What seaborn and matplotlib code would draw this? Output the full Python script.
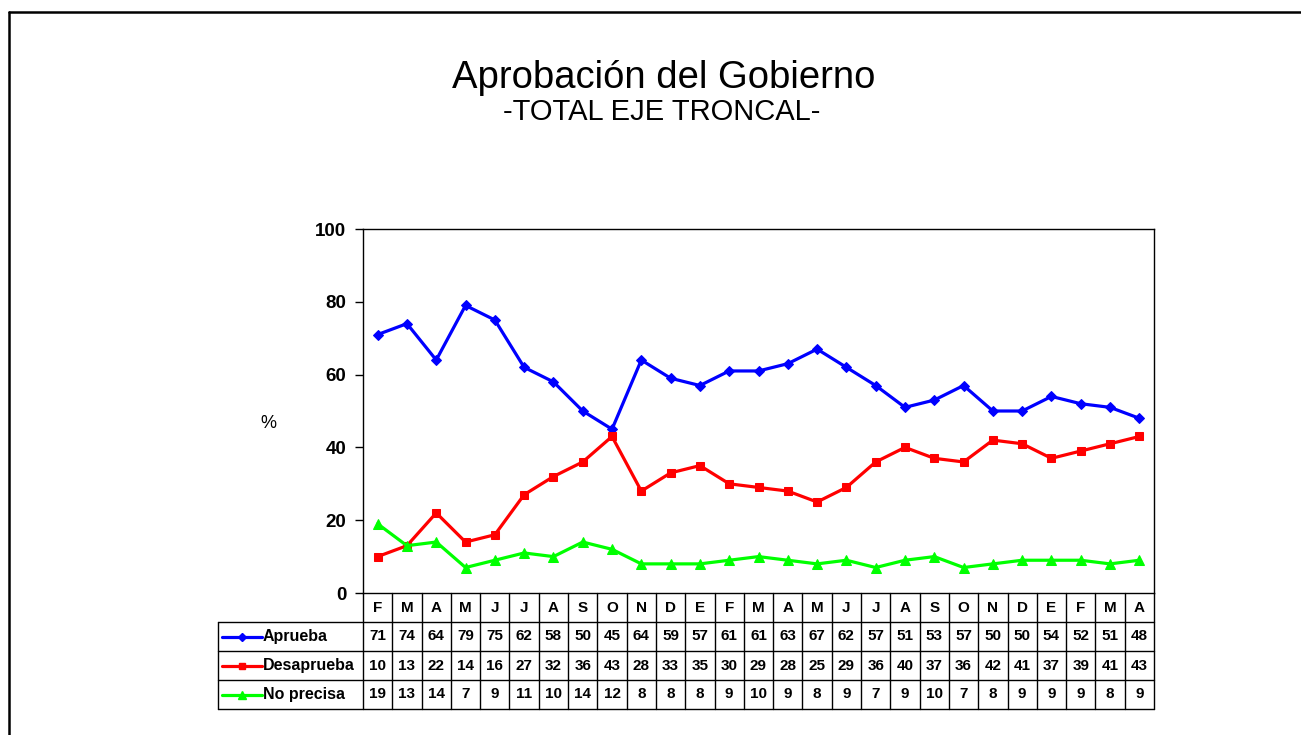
import pandas as pd
import matplotlib.pyplot as plt
import matplotlib.lines as mlines
import seaborn as sns
import numpy as np

sns.set_theme(style="white")
plt.rcParams['font.family'] = ['Liberation Sans', 'DejaVu Sans']
plt.rcParams['text.color'] = 'black'
plt.rcParams['ytick.color'] = 'black'
plt.rcParams['xtick.color'] = 'black'

# Data
months = ["F", "M", "A", "M", "J", "J", "A", "S", "O", "N", "D", "E", "F", "M",
          "A", "M", "J", "J", "A", "S", "O", "N", "D", "E", "F", "M", "A"]
aprueba = [71, 74, 64, 79, 75, 62, 58, 50, 45, 64, 59, 57, 61, 61, 63, 67, 62,
           57, 51, 53, 57, 50, 50, 54, 52, 51, 48]
desaprueba = [10, 13, 22, 14, 16, 27, 32, 36, 43, 28, 33, 35, 30, 29, 28, 25,
              29, 36, 40, 37, 36, 42, 41, 37, 39, 41, 43]
no_precisa = [19, 13, 14, 7, 9, 11, 10, 14, 12, 8, 8, 8, 9, 10, 9, 8, 9, 7, 9,
              10, 7, 8, 9, 9, 9, 8, 9]

series = [
    ("Aprueba", aprueba, "#0000FF", "D", 5),
    ("Desaprueba", desaprueba, "#FF0000", "s", 6),
    ("No precisa", no_precisa, "#00FF00", "^", 7),
]

n = len(months)
pos = np.arange(n)

fig = plt.figure(figsize=(13.01, 7.35), dpi=100)
ax = fig.add_axes([363 / 1301, 1 - 593 / 735, 791 / 1301, 364 / 735])

for name, vals, color, marker, ms in series:
    sns.lineplot(x=pos, y=vals, ax=ax, color=color, marker=marker,
                 markersize=ms, markeredgecolor=color, linewidth=2.3,
                 label=name, legend=False)

ax.set_xlim(-0.5, n - 0.5)
ax.set_ylim(0, 100)
ax.set_yticks([0, 20, 40, 60, 80, 100])
ax.set_yticklabels(["0", "20", "40", "60", "80", "100"],
                   fontsize=13.5, fontweight="bold")
ax.set_xticks([])
ax.tick_params(axis="y", direction="out", length=6, width=1, color="black",
               left=True, pad=6)
for sp in ax.spines.values():
    sp.set_color("black")
    sp.set_linewidth(1)
ax.set_xlabel("")
ax.set_ylabel("")

fig.text(268 / 1301, 1 - 424 / 735, "%", fontsize=13, ha="center", va="center")

# Title
fig.text(664 / 1301, 1 - 88 / 735, "Aprobación del Gobierno", fontsize=27.5,
         ha="center", va="baseline")
fig.text(662 / 1301, 1 - 120 / 735, "-TOTAL EJE TRONCAL-", fontsize=21,
         ha="center", va="baseline")

# Data table below the axes
tr = ax.get_xaxis_transform()
h = 29 / 364
lab_left = -5.45
kw = dict(transform=tr, clip_on=False, color="black", lw=1)

for i in range(n + 1):
    ax.plot([i - 0.5, i - 0.5], [0, -4 * h], **kw)
for k in range(1, 5):
    ax.plot([lab_left, n - 0.5], [-k * h, -k * h], **kw)
ax.plot([lab_left, lab_left], [-h, -4 * h], **kw)

for i, m in enumerate(months):
    ax.text(i, -0.5 * h, m, transform=tr, ha="center", va="center",
            fontsize=11, fontweight="bold")

for r, (name, vals, color, marker, ms) in enumerate(series):
    yc = -(r + 1.5) * h
    for i, v in enumerate(vals):
        ax.text(i, yc, str(v), transform=tr, ha="center", va="center",
                fontsize=11, fontweight="bold")
    ax.add_line(mlines.Line2D([-5.31, -3.95], [yc, yc], transform=tr,
                              clip_on=False, color=color, lw=2.3))
    ax.add_line(mlines.Line2D([-4.63], [yc], transform=tr, clip_on=False,
                              color=color, marker=marker, markersize=ms - 1,
                              markeredgecolor=color))
    ax.text(-3.93, yc, name, transform=tr, ha="left", va="center",
            fontsize=11.5, fontweight="bold")

# Outer frame (top and left edges)
fig.add_artist(mlines.Line2D([8.5 / 1301, 1.0], [1 - 11.5 / 735, 1 - 11.5 / 735],
                             transform=fig.transFigure, color="black", lw=1.8))
fig.add_artist(mlines.Line2D([8.5 / 1301, 8.5 / 1301], [0, 1 - 11.5 / 735],
                             transform=fig.transFigure, color="black", lw=1.8))

fig.savefig("out.png", dpi=100, facecolor="white")
